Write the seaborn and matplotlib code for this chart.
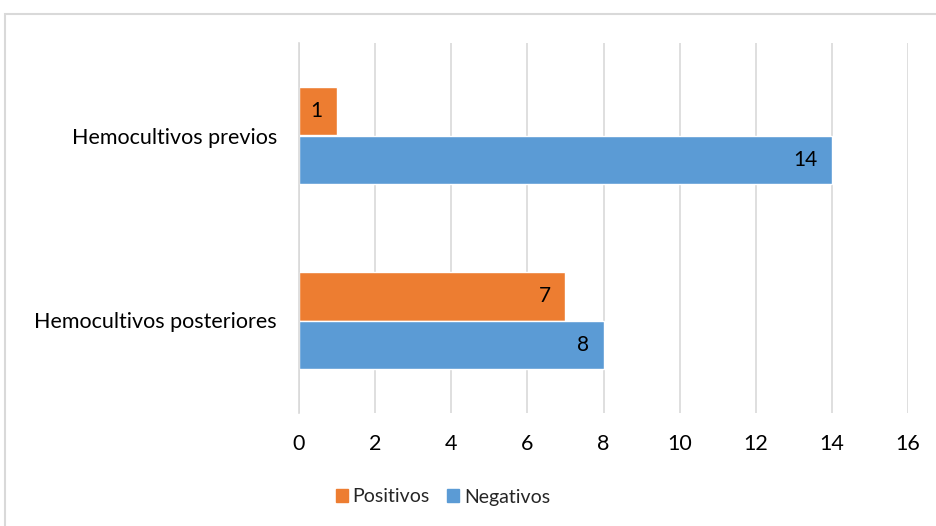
import pandas as pd
import matplotlib
matplotlib.use("Agg")
import matplotlib.pyplot as plt
from matplotlib.patches import Rectangle
import seaborn as sns

# data
categorias = ["Hemocultivos previos", "Hemocultivos posteriores"]
series = ["Positivos", "Negativos"]
positivos = [1, 7]
negativos = [14, 8]
colores = ["#ED7D31", "#5B9BD5"]
x_ticks = [0, 2, 4, 6, 8, 10, 12, 14, 16]

df = pd.DataFrame({
    "categoria": categorias * 2,
    "serie": [series[0]] * 2 + [series[1]] * 2,
    "valor": positivos + negativos,
})

sns.set_style("white")
plt.rcParams["font.family"] = ["Lato", "DejaVu Sans"]

fig = plt.figure(figsize=(9.36, 5.26), dpi=100)
ax = fig.add_axes([299 / 936, 1 - 413 / 526, (908 - 299) / 936, (413 - 43) / 526])

sns.barplot(data=df, x="valor", y="categoria", hue="serie", order=categorias,
            hue_order=series, palette=colores, orient="h", width=0.52,
            saturation=1, legend=False, ax=ax)

# value labels inside the end of each bar
for cont in ax.containers:
    for bar in cont:
        w = bar.get_width()
        ax.annotate(f"{w:.0f}", (w, bar.get_y() + bar.get_height() / 2),
                    xytext=(-10.5, 0), textcoords="offset points",
                    ha="right", va="center", fontsize=15, color="black")

ax.set_xlim(0, 16)
ax.set_ylim(1.5, -0.5)
ax.set_xticks(x_ticks)
ax.set_xlabel("")
ax.set_ylabel("")
ax.tick_params(axis="both", length=0, labelsize=15.5, colors="black")
ax.tick_params(axis="x", pad=15)
ax.tick_params(axis="y", pad=16)
ax.grid(axis="x", color="#D9D9D9", linewidth=1.2)
ax.set_axisbelow(True)
for s in ["top", "right", "bottom"]:
    ax.spines[s].set_visible(False)
ax.spines["left"].set_color("#D9D9D9")
ax.spines["left"].set_linewidth(1.2)

# legend at the bottom
handles = [Rectangle((0, 0), 1, 1, color=c) for c in colores]
fig.legend(handles, series, loc="center", bbox_to_anchor=(443 / 936, 1 - 497 / 526),
           ncol=2, frameon=False, fontsize=14, handlelength=0.6, handleheight=0.6,
           handletextpad=0.25, columnspacing=0.9)

# light chart-area border
fig.patches.append(Rectangle((5 / 936, -0.2), 1.2, 1.2 - 14 / 526,
                             transform=fig.transFigure, fill=False,
                             edgecolor="#D9D9D9", linewidth=1.5))

fig.savefig("out.png", dpi=100)
